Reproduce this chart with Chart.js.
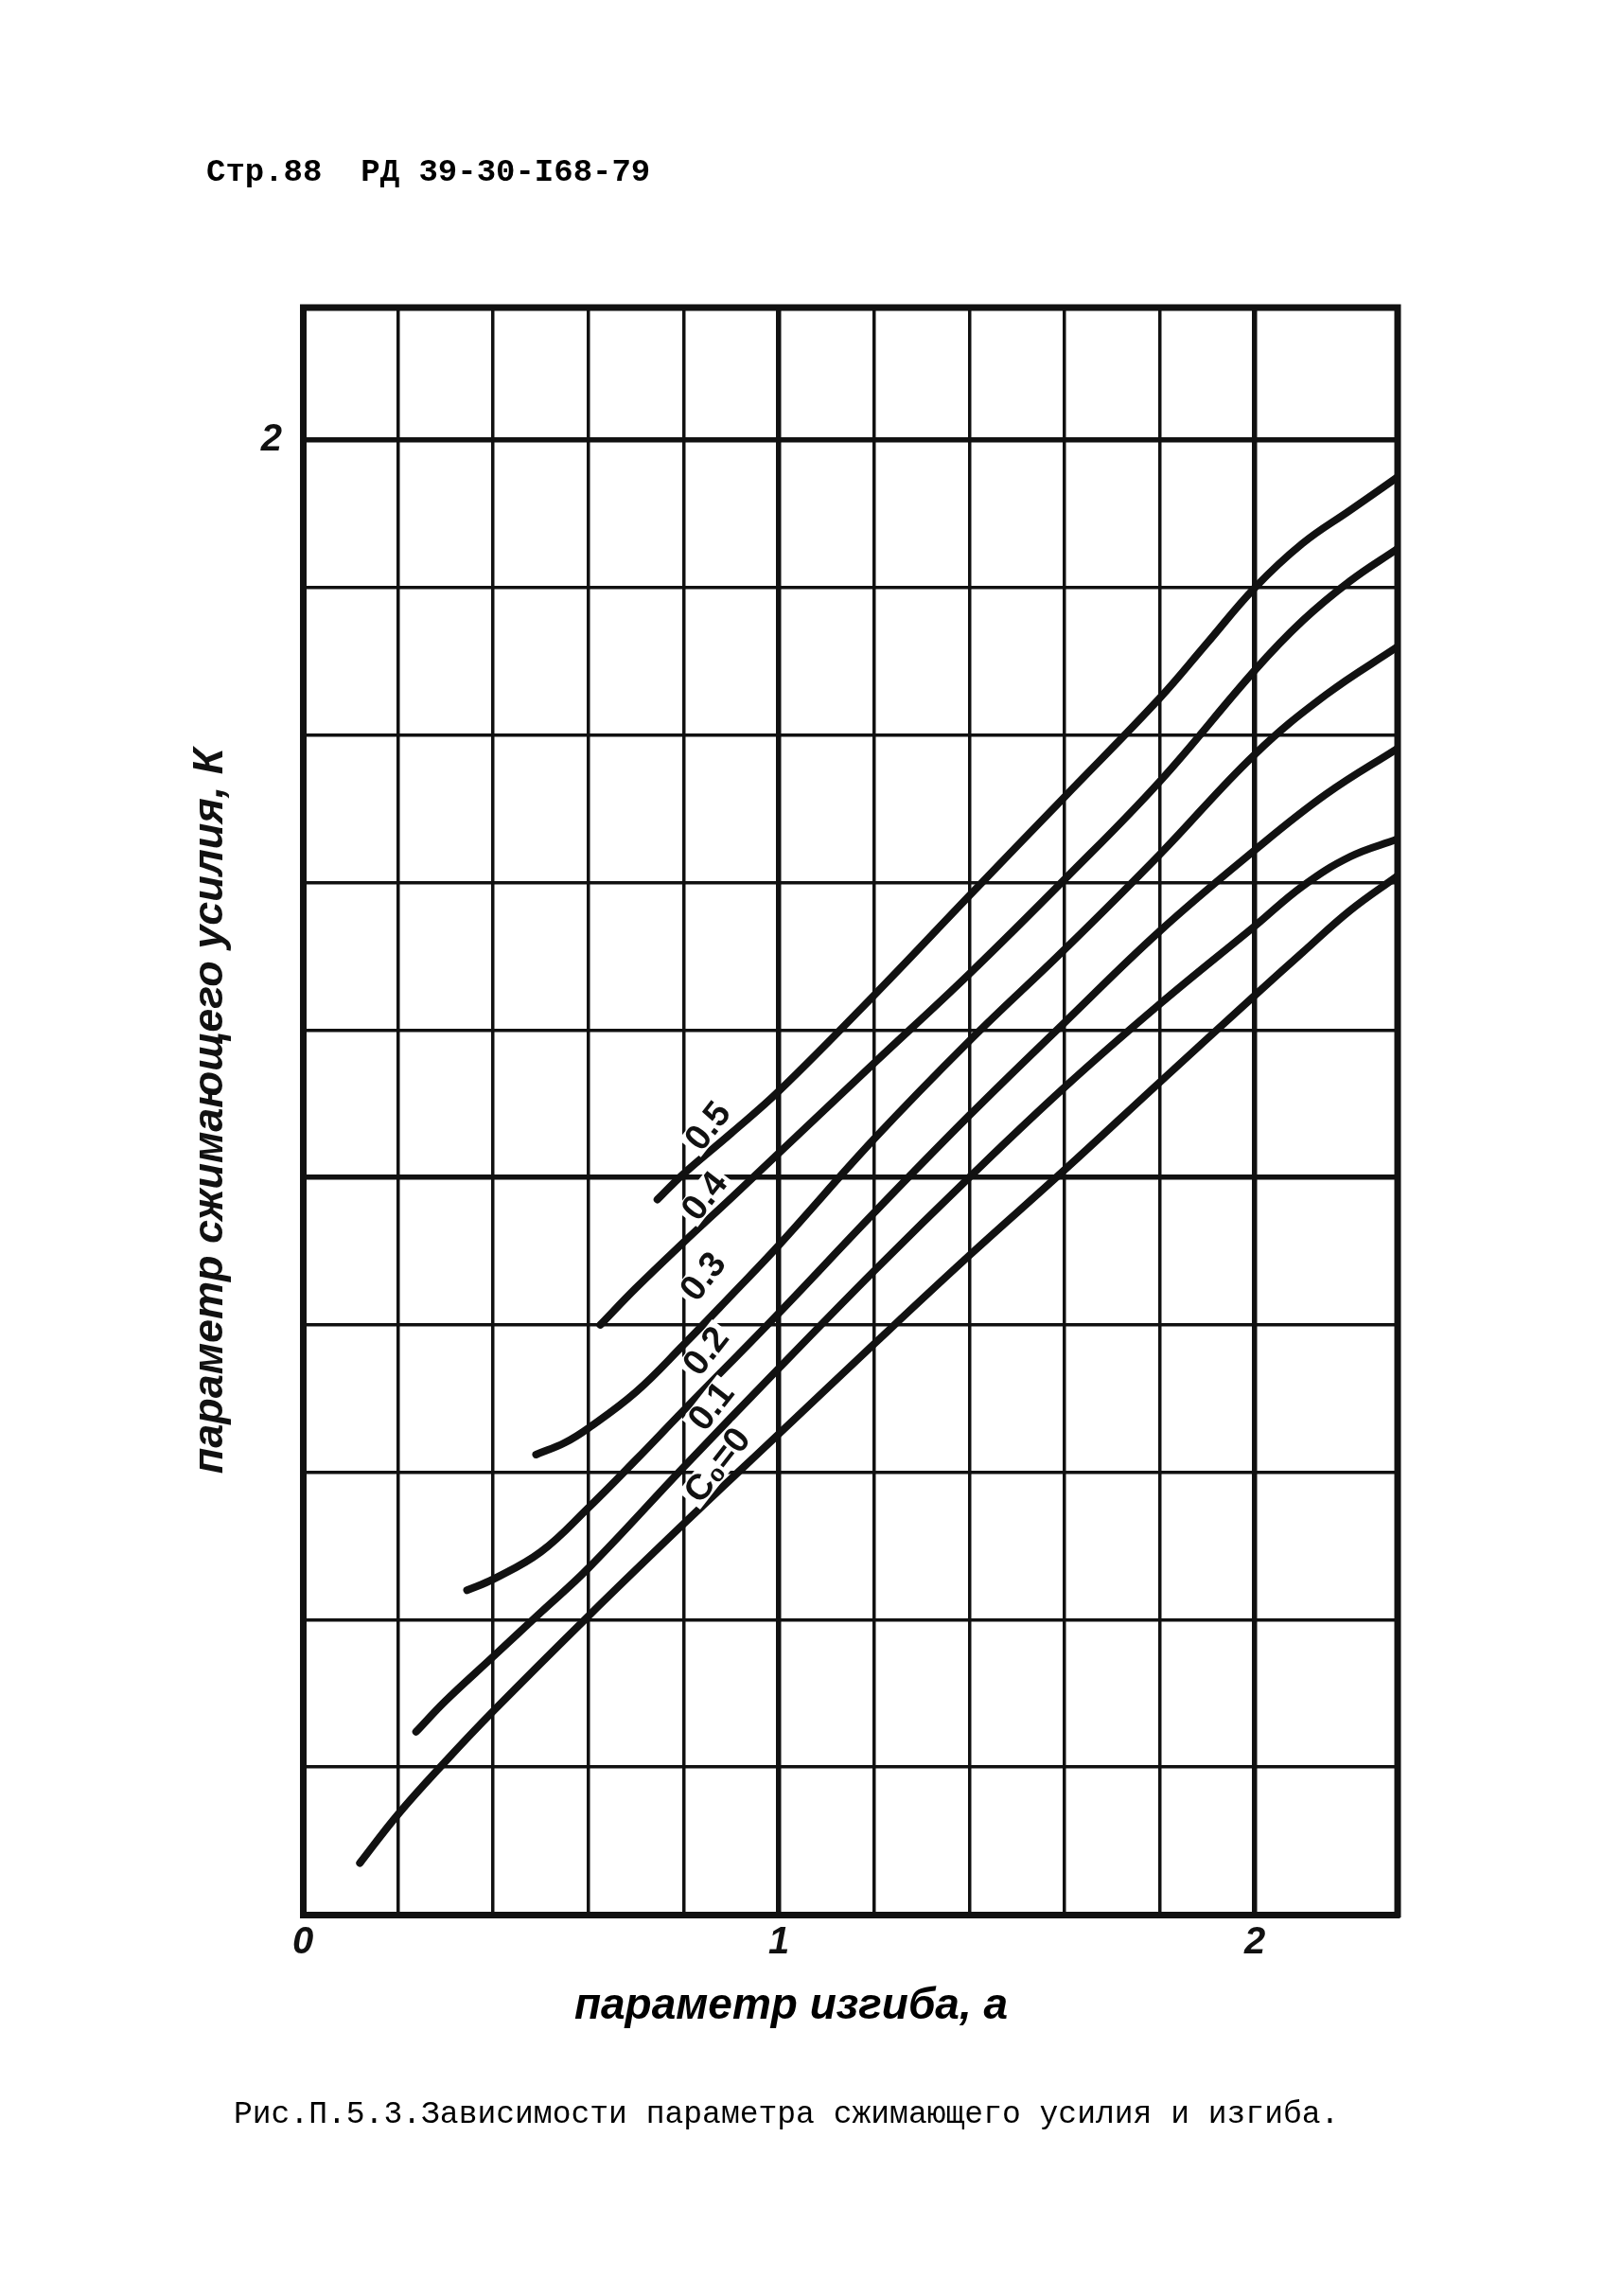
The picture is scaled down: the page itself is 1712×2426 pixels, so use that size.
<!DOCTYPE html>
<html lang="ru">
<head>
<meta charset="utf-8">
<title>Рис.П.5.3</title>
<script src="https://cdn.jsdelivr.net/npm/chart.js@4.4.1/dist/chart.umd.min.js"></script>
<style>
  html, body { margin: 0; padding: 0; background: #fff; }
  #wrap { position: relative; width: 1712px; height: 2426px; }
</style>
</head>
<body>
<div id="wrap"><canvas id="chart"></canvas></div>
<script>
// --- curves: a = параметр изгиба, K = параметр сжимающего усилия
const aC0 = [0.12, 0.2, 0.3, 0.4, 0.6, 0.8, 1.0, 1.2, 1.4, 1.6, 1.8, 2.0, 2.1, 2.2, 2.3];
const kC0 = [0.07, 0.136, 0.208, 0.276, 0.405, 0.53, 0.652, 0.774, 0.894, 1.01, 1.129, 1.247, 1.305, 1.362, 1.409];

const aC1 = [0.238, 0.3, 0.4, 0.5, 0.6, 0.8, 1.0, 1.2, 1.4, 1.6, 1.8, 2.0, 2.1, 2.2, 2.3];
const kC1 = [0.248, 0.29, 0.35, 0.41, 0.47, 0.607, 0.741, 0.873, 1.0, 1.122, 1.235, 1.341, 1.395, 1.435, 1.459];

const aC2 = [0.345, 0.4, 0.5, 0.6, 0.7, 0.8, 1.0, 1.2, 1.4, 1.6, 1.8, 2.0, 2.15, 2.3];
const kC2 = [0.44, 0.455, 0.492, 0.552, 0.617, 0.684, 0.816, 0.952, 1.084, 1.21, 1.334, 1.444, 1.52, 1.582];

const aC3 = [0.49, 0.55, 0.6, 0.7, 0.8, 0.9, 1.0, 1.2, 1.4, 1.6, 1.8, 2.0, 2.15, 2.3];
const kC3 = [0.624, 0.64, 0.66, 0.709, 0.773, 0.84, 0.908, 1.052, 1.185, 1.309, 1.438, 1.574, 1.655, 1.72];

const aC4 = [0.625, 0.7, 0.8, 0.9, 1.0, 1.2, 1.4, 1.6, 1.8, 2.0, 2.1, 2.2, 2.3];
const kC4 = [0.8, 0.85, 0.912, 0.972, 1.033, 1.155, 1.276, 1.404, 1.537, 1.688, 1.755, 1.809, 1.853];

const aC5 = [0.745, 0.8, 0.9, 1.0, 1.2, 1.4, 1.6, 1.8, 1.9, 2.0, 2.1, 2.2, 2.3];
const kC5 = [0.97, 1.005, 1.06, 1.117, 1.247, 1.382, 1.516, 1.65, 1.725, 1.8, 1.86, 1.905, 1.95];

// curve labels (C0 value) and where they are written on the sheet
const curveNames = ["C₀=0", "0.1", "0.2", "0.3", "0.4", "0.5"];
const labelA = [0.87, 0.857, 0.846, 0.84, 0.843, 0.85];
const labelK = [0.61, 0.69, 0.765, 0.866, 0.975, 1.07];

// only these grid values carry a number; the last x column has no line
const xLabelled = [0, 1, 2];
const yLabelled = [2];
const xLastGrid = 2;

const headerText = "Стр.88  РД 39-30-I68-79";
const captionText = "Рис.П.5.3.Зависимости параметра сжимающего усилия и изгиба.";
const xTitle = "параметр изгиба, а";
const yTitle = "параметр сжимающего усилия, К";

const INK = "#111";
const HAND = "'Liberation Sans', 'DejaVu Sans', sans-serif";
const TYPE = "'Liberation Mono', 'DejaVu Sans Mono', monospace";

const isWhole = v => Math.abs(v - Math.round(v)) < 1e-6;
const inList = (list, v) => list.some(t => Math.abs(t - v) < 1e-6);

const curves = [[aC0, kC0], [aC1, kC1], [aC2, kC2], [aC3, kC3], [aC4, kC4], [aC5, kC5]];

// frame top/right, curve labels, x title, page header and caption
const paperPlugin = {
  id: "paper",
  afterDraw(chart) {
    const { ctx, chartArea: ca, scales } = chart;
    ctx.save();
    ctx.strokeStyle = INK;
    ctx.lineWidth = 7;
    ctx.beginPath();
    ctx.moveTo(ca.left - 3, ca.top);
    ctx.lineTo(ca.right, ca.top);
    ctx.lineTo(ca.right, ca.bottom + 3);
    ctx.stroke();

    ctx.font = "bold 38px " + HAND;
    ctx.textAlign = "center";
    ctx.textBaseline = "middle";
    curveNames.forEach((name, i) => {
      const px = scales.x.getPixelForValue(labelA[i]);
      const py = scales.y.getPixelForValue(labelK[i]);
      const w = ctx.measureText(name).width;
      ctx.save();
      ctx.translate(px, py);
      ctx.rotate(-52 * Math.PI / 180);
      ctx.fillStyle = "#fff";
      ctx.fillRect(-w / 2 - 4, -15, w + 8, 30);
      ctx.fillStyle = INK;
      ctx.fillText(name, 0, 2);
      ctx.restore();
    });

    // x axis title sits left of the plot centre on the sheet
    ctx.font = "italic bold 46px " + HAND;
    ctx.fillText(xTitle, 836, 2120);

    ctx.textAlign = "left";
    ctx.textBaseline = "alphabetic";
    ctx.font = "bold 34px " + TYPE;
    ctx.fillText(headerText, 218, 191);
    ctx.font = "33px " + TYPE;
    ctx.fillText(captionText, 247, 2243);
    ctx.restore();
  }
};

const tickFont = { family: HAND, size: 40, style: "italic", weight: "bold" };
const titleFont = { family: HAND, size: 45, style: "italic", weight: "bold" };
const gridWidth = c => (c.tick && isWhole(c.tick.value)) ? 5.5 : 3.5;

new Chart(document.getElementById("chart"), {
  type: "scatter",
  data: {
    datasets: curves.map(([a, k], i) => ({
      label: curveNames[i],
      data: a.map((x, j) => ({ x, y: k[j] })),
      showLine: true,
      borderColor: INK,
      borderWidth: 8,
      borderCapStyle: "round",
      tension: 0.4,
      pointRadius: 0,
      fill: false
    }))
  },
  options: {
    responsive: true,
    maintainAspectRatio: false,
    animation: false,
    devicePixelRatio: 1,
    layout: { padding: { left: 120, right: 235, top: 325, bottom: 203 } },
    plugins: { legend: { display: false }, tooltip: { enabled: false } },
    scales: {
      x: {
        type: "linear",
        min: 0,
        max: 2.3,
        afterFit: s => { s.height = 200; },
        ticks: {
          stepSize: 0.2,
          includeBounds: false,
          autoSkip: false,
          maxRotation: 0,
          padding: 6,
          color: INK,
          font: tickFont,
          callback: v => inList(xLabelled, v) ? String(Math.round(v)) : ""
        },
        grid: {
          color: c => (c.tick && c.tick.value > xLastGrid + 1e-6) ? "rgba(0,0,0,0)" : INK,
          drawTicks: false,
          lineWidth: gridWidth
        },
        border: { color: INK, width: 7 }
      },
      y: {
        type: "linear",
        min: 0,
        max: 2.18,
        afterFit: s => { s.width = 200; },
        ticks: {
          stepSize: 0.2,
          includeBounds: false,
          autoSkip: false,
          padding: 22,
          color: INK,
          font: tickFont,
          callback: v => inList(yLabelled, v) ? String(Math.round(v)) : ""
        },
        grid: { color: INK, drawTicks: false, lineWidth: gridWidth },
        border: { color: INK, width: 7 },
        title: { display: true, text: yTitle, color: INK, font: titleFont, padding: { top: 76, bottom: 0 } }
      }
    }
  },
  plugins: [paperPlugin]
});
</script>
</body>
</html>
